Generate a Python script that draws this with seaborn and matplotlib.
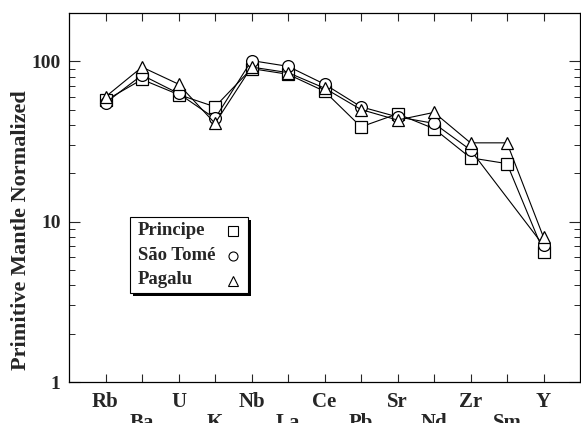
import numpy as np
import pandas as pd
import matplotlib
matplotlib.use("Agg")
import matplotlib.pyplot as plt
import seaborn as sns
from matplotlib.ticker import LogLocator, NullFormatter, FixedLocator
from matplotlib.patches import Rectangle
from matplotlib.lines import Line2D

elements = ["Rb", "Ba", "U", "K", "Nb", "La", "Ce", "Pb", "Sr", "Nd", "Zr", "Sm", "Y"]
principe = [57, 77, 62, 52, 90, 83, 65, 39, 47, 38, 25, 23, 6.5]
sao_tome = [55, 82, 63, 44, 101, 93, 72, 52, 45, 41, 28, np.nan, 7.1]
pagalu = [60, 92, 72, 41, 92, 85, 68, 50, 43, 48, 31, 31, 8.0]

series_names = ["Principe", "São Tomé", "Pagalu"]
series_vals = [principe, sao_tome, pagalu]
markers = ["s", "o", "^"]

sns.set_style("ticks")
plt.rcParams["font.family"] = ["Liberation Serif", "DejaVu Serif"]
plt.rcParams["font.weight"] = "bold"

W, H = 581, 423
fig = plt.figure(figsize=(W / 100, H / 100), dpi=100)
ax = fig.add_axes([69 / W, 1 - 382 / H, 511 / W, 369 / H])

idx = np.arange(len(elements))
for name, vals, mk in zip(series_names, series_vals, markers):
    df = pd.DataFrame({"x": idx, "y": vals}).dropna()
    sns.lineplot(data=df, x="x", y="y", ax=ax, color="black", linewidth=0.8,
                 marker=mk, markersize=8 if mk != "o" else 8.5,
                 markerfacecolor="white", markeredgecolor="black",
                 markeredgewidth=0.9, legend=False)

ax.set_yscale("log")
ax.set_ylim(1, 200)
ax.set_xlim(-1, len(elements))

ax.yaxis.set_major_locator(FixedLocator([1, 10, 100]))
ax.set_yticklabels(["1", "10", "100"])
ax.yaxis.set_minor_locator(LogLocator(base=10, subs=np.arange(2, 10)))
ax.yaxis.set_minor_formatter(NullFormatter())

even = idx[::2]
odd = idx[1::2]
ax.set_xticks(even)
ax.set_xticklabels([elements[i] for i in even])
ax.set_xticks(odd, minor=True)
ax.set_xticklabels([elements[i] for i in odd], minor=True)

ax.tick_params(axis="x", which="major", direction="in", length=6, width=0.8,
               top=True, pad=7, labelsize=15)
ax.tick_params(axis="x", which="minor", direction="in", length=6, width=0.8,
               top=True, pad=22, labelsize=15)
ax.tick_params(axis="y", which="major", direction="in", length=8, width=0.8,
               right=True, pad=6, labelsize=14)
ax.tick_params(axis="y", which="minor", direction="in", length=4, width=0.7,
               right=True)
for lab in ax.get_xticklabels(which="both") + ax.get_yticklabels():
    lab.set_fontweight("bold")

for sp in ax.spines.values():
    sp.set_linewidth(0.9)
    sp.set_color("black")

ax.set_xlabel("")
ax.set_ylabel("Primitive Mantle Normalized", fontsize=16, fontweight="bold")
ax.yaxis.set_label_coords((31 - 69) / 511, (382 - 230) / 369)


def fx(px):
    return px / W


def fy(py):
    return 1 - py / H


# legend box with shadow (pixel coordinates of reference)
bx0, by0, bx1, by1 = 130, 217, 248, 293
fig.add_artist(Rectangle((fx(bx0 + 3), fy(by1 + 3)), fx(bx1 - bx0), (by1 - by0) / H,
                         transform=fig.transFigure, facecolor="black",
                         edgecolor="none", zorder=5))
fig.add_artist(Rectangle((fx(bx0), fy(by1)), fx(bx1 - bx0), (by1 - by0) / H,
                         transform=fig.transFigure, facecolor="white",
                         edgecolor="black", linewidth=0.8, zorder=6))
row_y = [230, 255, 280]
for name, mk, ry in zip(series_names, markers, row_y):
    fig.text(fx(138), fy(ry), name, fontsize=13.5, fontweight="bold",
             ha="left", va="center", zorder=7)
    fig.add_artist(Line2D([fx(233)], [fy(ry + 1)], transform=fig.transFigure,
                          marker=mk, markersize=6.5 if mk != "^" else 7,
                          markerfacecolor="white", markeredgecolor="black",
                          markeredgewidth=0.8, linestyle="none", zorder=7))

fig.savefig("out.png", dpi=100)
